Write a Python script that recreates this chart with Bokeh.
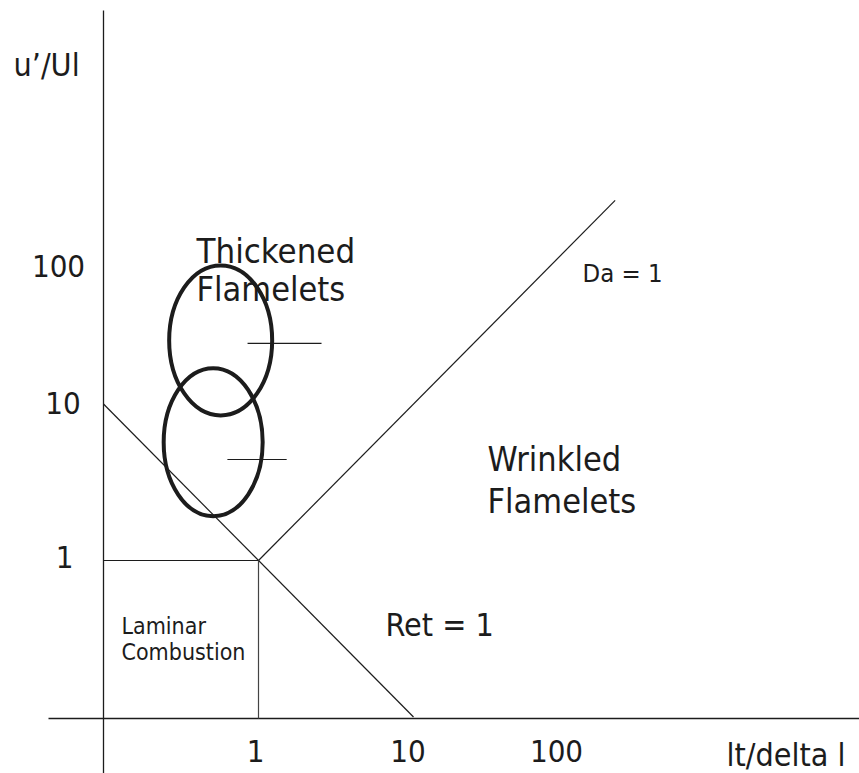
from bokeh.plotting import figure
from bokeh.models import Range1d, Label
from bokeh.embed import file_html
from bokeh.resources import INLINE
from bokeh.core.properties import value

# ---------------- data ----------------
tick_values = [1, 10, 100]
tick_labels = ["1", "10", "100"]

# Ret = 1 line  (lt/delta_l * u'/Ul = 1)
ret_lt = [0.1, 10]
ret_u = [10, 0.1]
# Da = 1 line (u'/Ul = lt/delta_l)
da_lt = [1, 200]
da_u = [1, 200]
# laminar combustion box
lam_h_lt = [0.1, 1]
lam_h_u = [1, 1]
lam_v_lt = [1, 1]
lam_v_u = [0.1, 1]
# ellipses (regime zones) centres
ell_lt = [0.57, 0.51]
ell_u = [25.5, 5.7]
# short pointer strokes from ellipse centres
mark_lt0 = [0.85, 0.63]
mark_lt1 = [2.55, 1.52]
mark_u = [24.4, 4.42]

x_title = "lt/delta l"
y_title = "u\u2019/Ul"

# ---------------- layout / style ----------------
W, H = 859, 773
PX_X, PX_Y = 155.0, 156.5       # pixels per decade
X1_PX, Y1_PX = 258.0, 560.0     # pixel where lt=1 / u=1
FONT = "DejaVu Sans Condensed"
INK = "#1c1c1c"
AXIS_LT, AXIS_U = 0.1, 0.1
FIX = 12                         # baseline correction of the text renderer

x_range = Range1d(10 ** (-X1_PX / PX_X), 10 ** ((W - X1_PX) / PX_X))
y_range = Range1d(10 ** (-(H - Y1_PX) / PX_Y), 10 ** (Y1_PX / PX_Y))

p = figure(width=W, height=H, x_axis_type="log", y_axis_type="log",
           x_range=x_range, y_range=y_range,
           x_axis_location=None, y_axis_location=None,
           output_backend="svg", toolbar_location=None, min_border=0)
p.grid.visible = False
p.outline_line_color = None
p.background_fill_color = "white"
p.border_fill_color = "white"

# axes drawn as lines
v_top = 10 ** ((Y1_PX - 10) / PX_Y)
h_left = 10 ** ((48 - X1_PX) / PX_X)
p.line([AXIS_LT, AXIS_LT], [y_range.start, v_top], line_color=INK, line_width=1.3)
p.line([h_left, x_range.end], [AXIS_U * 0.978, AXIS_U * 0.978], line_color=INK, line_width=1.3)

p.line(ret_lt, ret_u, line_color=INK, line_width=1.2)
p.line(da_lt, da_u, line_color=INK, line_width=1.2)
p.line(lam_h_lt, lam_h_u, line_color=INK, line_width=1.2)
p.line(lam_v_lt, [AXIS_U * 0.978, 1], line_color="#444444", line_width=1.2)

p.ellipse(x=ell_lt, y=ell_u, width=[103, 99], height=[150, 148],
          width_units="screen", height_units="screen",
          fill_color=None, line_color=INK, line_width=4)
p.segment(x0=mark_lt0, y0=mark_u, x1=mark_lt1, y1=mark_u, line_color=INK, line_width=1.2)

# tick labels
p.text(x=tick_values, y=[AXIS_U] * 3, text=tick_labels,
       x_offset=[-3, -5.5, -12], y_offset=[45.5 - FIX] * 3,
       text_align="center", text_baseline="alphabetic",
       text_font=value(FONT), text_font_size="31px", text_color=INK)
p.text(x=[AXIS_LT] * 3, y=tick_values, text=tick_labels,
       x_offset=[-39, -40.5, -45], y_offset=[8 - FIX, 10.5 - FIX, 30 - FIX],
       text_align="center", text_baseline="alphabetic",
       text_font=value(FONT), text_font_size="31px", text_color=INK)


def lbl(text, ix, iy, size):
    p.add_layout(Label(x=ix, y=H - (iy - FIX), x_units="screen", y_units="screen",
                       text=text, text_font=FONT, text_font_size=f"{size}px",
                       text_color=INK, text_align="left", text_baseline="alphabetic"))


lbl(y_title, 13, 76, 32)
lbl(x_title, 726, 766, 32)
lbl("Thickened", 196, 262, 34.5)
lbl("Flamelets", 196, 300, 34)
lbl("Da = 1", 582, 284, 25.5)
lbl("Wrinkled", 487, 470, 34)
lbl("Flamelets", 487, 512, 34)
lbl("Ret = 1", 385, 636, 32)
lbl("Laminar", 121, 637, 23)
lbl("Combustion", 121, 663, 23)

open("out.html", "w").write(file_html(p, INLINE))
